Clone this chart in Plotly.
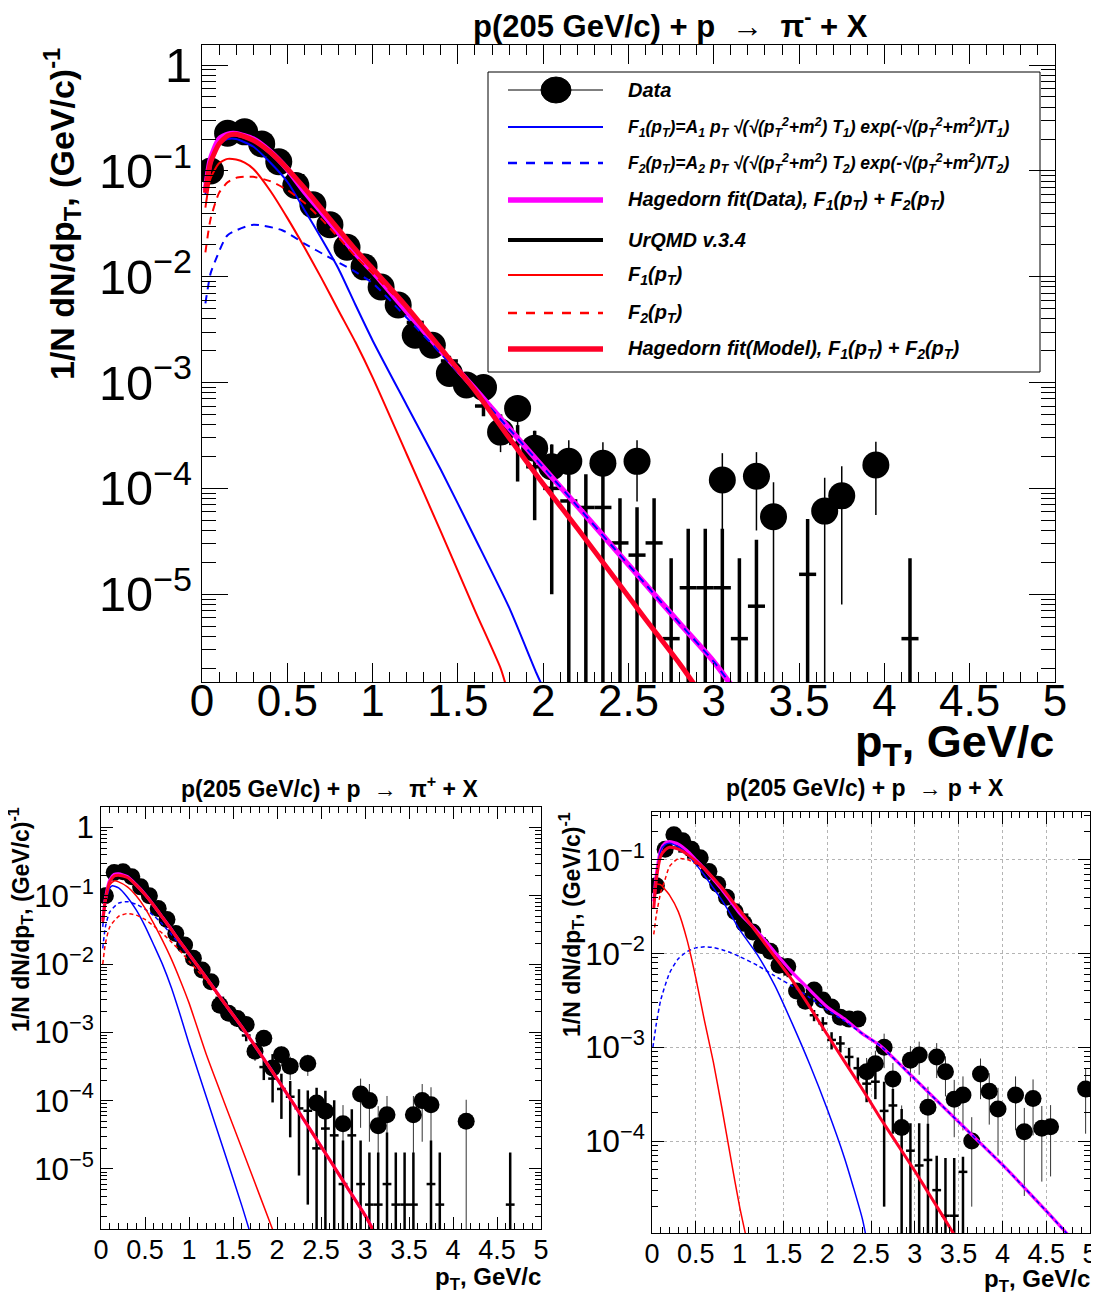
import plotly.graph_objects as go

W, H = 1099, 1294          # reference picture size
OFF = 8                    # page margin in front of the figure
FW, FH = W - OFF, H - OFF  # figure size
FONT = "Liberation Sans, Arial, Helvetica, sans-serif"


def PX(x):
    return (x - OFF) / FW


def PY(y):
    return 1 - (y - OFF) / FH


# ---------------- common tick labels ----------------
X_TICKS = [0, 0.5, 1, 1.5, 2, 2.5, 3, 3.5, 4, 4.5, 5]
X_TICK_TEXT = ["0", "0.5", "1", "1.5", "2", "2.5", "3", "3.5", "4", "4.5", "5"]

# ================= Panel 1 : p + p -> pi- + X =================
pim_data_pt = [0.05, 0.15, 0.25, 0.35, 0.45, 0.55, 0.65, 0.75, 0.85, 0.95, 1.05, 1.15, 1.25, 1.35, 1.45,
               1.55, 1.65, 1.75, 1.85, 1.95, 2.05, 2.15, 2.35, 2.55, 3.05, 3.25, 3.35, 3.65, 3.75, 3.95]
pim_data_val = [0.10, 0.227, 0.234, 0.18, 0.122, 0.073, 0.048, 0.031, 0.019, 0.0124, 0.0080, 0.0054, 0.0028,
                0.00225, 0.00122, 0.00095, 0.0009, 3.4e-4, 5.7e-4, 2.4e-4, 1.6e-4, 1.8e-4, 1.73e-4, 1.8e-4,
                1.2e-4, 1.3e-4, 5.4e-5, 6.1e-5, 8.5e-5, 1.66e-4]
pim_data_err = [0.003, 0.005, 0.005, 0.004, 0.003, 0.002, 0.0015, 0.001, 7e-4, 5e-4, 4e-4, 3.5e-4, 3e-4,
                2.5e-4, 1.8e-4, 1.6e-4, 1.6e-4, 1.2e-4, 1.9e-4, 1.1e-4, 1.0e-4, 1.05e-4, 1.0e-4, 1.05e-4,
                0.95e-4, 0.9e-4, 6e-5, 6.5e-5, 7.7e-5, 1.1e-4]

pim_model_pt = [0.05, 0.15, 0.25, 0.35, 0.45, 0.55, 0.65, 0.75, 0.85, 0.95, 1.05, 1.15, 1.25, 1.35, 1.45,
                1.55, 1.65, 1.75, 1.85, 1.95, 2.05, 2.15, 2.25, 2.35, 2.45, 2.55, 2.65, 2.75, 2.85, 2.95,
                3.05, 3.15, 3.25, 3.55, 4.15]
pim_model_val = [0.11, 0.21, 0.22, 0.185, 0.135, 0.09, 0.058, 0.037, 0.023, 0.0148, 0.0094, 0.006, 0.0037,
                 0.0024, 0.0016, 0.001, 6e-4, 4e-4, 2.66e-4, 1.6e-4, 1.0e-4, 7.6e-5, 6.6e-5, 6.6e-5, 3.05e-5,
                 2.34e-5, 3.05e-5, 3.8e-6, 1.15e-5, 1.15e-5, 1.15e-5, 3.8e-6, 7.7e-6, 1.54e-5, 3.8e-6]
pim_model_up = [0.002, 0.003, 0.003, 0.003, 0.002, 0.0015, 0.001, 7e-4, 5e-4, 4e-4, 3.5e-4, 3e-4, 3e-4,
                2.4e-4, 1.9e-4, 1.5e-4, 1.2e-4, 1.0e-4, 1.3e-4, 1.9e-4, 1.6e-4, 6.2e-5, 7e-5, 7e-5, 5e-5,
                4.3e-5, 5e-5, 1.8e-5, 3e-5, 3e-5, 3e-5, 1.8e-5, 2.5e-5, 3.6e-5, 1.8e-5]
pim_model_dn = [0.002, 0.003, 0.003, 0.003, 0.002, 0.0015, 0.001, 7e-4, 5e-4, 4e-4, 3.5e-4, 3e-4, 3e-4,
                2.4e-4, 1.9e-4, 1.5e-4, 1.2e-4, 1.0e-4, 1.5e-4, 1.1e-4, 0.9e-4, 7.6e-5, 6.6e-5, 6.6e-5,
                3.05e-5, 2.34e-5, 3.05e-5, 3.8e-6, 1.15e-5, 1.15e-5, 1.15e-5, 3.8e-6, 7.7e-6, 1.54e-5, 3.8e-6]

pim_f1d_pt = [0.02, 0.05, 0.1, 0.15, 0.2, 0.3, 0.4, 0.5, 0.6, 0.7, 0.8, 0.9, 1.0, 1.2, 1.4, 1.6, 1.8, 1.96, 2.0]
pim_f1d_val = [0.06, 0.12, 0.18, 0.2, 0.2, 0.17, 0.12, 0.079, 0.043, 0.023, 0.0119, 0.0054, 0.0025, 6.1e-4,
               1.5e-4, 3.4e-5, 7.5e-6, 1.8e-6, 1.3e-6]
pim_f2d_pt = [0.02, 0.05, 0.08, 0.15, 0.3, 0.47, 0.6, 0.74, 0.88, 1.0, 1.2, 1.4, 1.6, 1.8, 2.0, 2.2, 2.4,
              2.6, 2.8, 3.0, 3.1]
pim_f2d_val = [0.0056, 0.0107, 0.0144, 0.0247, 0.031, 0.0275, 0.0206, 0.0154, 0.0116, 0.0087, 0.0041,
               0.00188, 8.4e-4, 3.65e-4, 1.58e-4, 6.8e-5, 2.9e-5, 1.24e-5, 5.3e-6, 2.3e-6, 1.4e-6]
pim_hagd_pt = [0.02, 0.05, 0.1, 0.15, 0.2, 0.3, 0.4, 0.5, 0.6, 0.7, 0.8, 0.9, 1.0, 1.2, 1.4, 1.6, 1.8, 2.0,
               2.2, 2.4, 2.6, 2.8, 3.0, 3.1]
pim_hagd_val = [0.065, 0.13, 0.2, 0.222, 0.225, 0.2, 0.152, 0.104, 0.064, 0.041, 0.026, 0.0166, 0.0112,
                0.0047, 0.002, 8.7e-4, 3.7e-4, 1.58e-4, 6.8e-5, 2.9e-5, 1.24e-5, 5.3e-6, 2.3e-6, 1.4e-6]
pim_f1m_pt = [0.02, 0.05, 0.1, 0.15, 0.2, 0.25, 0.3, 0.4, 0.5, 0.6, 0.7, 0.8, 0.9, 1.0, 1.2, 1.4, 1.6, 1.75,
              1.78]
pim_f1m_val = [0.045, 0.085, 0.118, 0.13, 0.128, 0.12, 0.105, 0.065, 0.036, 0.019, 0.0097, 0.0048, 0.0024,
               0.00112, 2.1e-4, 3.9e-5, 7.0e-6, 2.0e-6, 1.4e-6]
pim_f2m_pt = [0.02, 0.05, 0.1, 0.15, 0.2, 0.25, 0.3, 0.4, 0.5, 0.6, 0.7, 0.8, 0.9, 1.0, 1.2, 1.4, 1.6, 1.8,
              2.0, 2.2, 2.4, 2.6, 2.8, 2.9]
pim_f2m_val = [0.017, 0.035, 0.062, 0.078, 0.086, 0.088, 0.088, 0.08, 0.066, 0.05, 0.035, 0.0235, 0.0155,
               0.0108, 0.005, 0.00205, 8.3e-4, 3.0e-4, 1.1e-4, 4.2e-5, 1.56e-5, 5.8e-6, 2.2e-6, 1.3e-6]
pim_hagm_pt = [0.02, 0.05, 0.1, 0.15, 0.2, 0.3, 0.4, 0.5, 0.6, 0.7, 0.8, 0.9, 1.0, 1.2, 1.4, 1.6, 1.8, 2.0,
               2.2, 2.4, 2.6, 2.8, 2.9]
pim_hagm_val = [0.062, 0.12, 0.18, 0.215, 0.222, 0.195, 0.15, 0.105, 0.069, 0.044, 0.028, 0.018, 0.012,
                0.0052, 0.0021, 8.4e-4, 3.0e-4, 1.1e-4, 4.2e-5, 1.56e-5, 5.8e-6, 2.2e-6, 1.3e-6]

# ================= Panel 2 : p + p -> pi+ + X =================
pip_data_pt = [0.05, 0.15, 0.25, 0.35, 0.45, 0.55, 0.65, 0.75, 0.85, 0.95, 1.05, 1.15, 1.25, 1.35, 1.45,
               1.55, 1.65, 1.75, 1.85, 1.95, 2.05, 2.15, 2.35, 2.45, 2.55, 2.75, 2.95, 3.05, 3.15, 3.25,
               3.55, 3.65, 3.75, 4.15]
pip_data_val = [0.10, 0.22, 0.224, 0.19, 0.135, 0.1, 0.065, 0.045, 0.028, 0.019, 0.0122, 0.0082, 0.0055,
                0.0025, 0.0019, 0.0016, 0.0013, 5.3e-4, 8.2e-4, 3.0e-4, 4.7e-4, 3.2e-4, 3.5e-4, 9.2e-5,
                7.0e-5, 4.6e-5, 1.25e-4, 1.0e-4, 4.3e-5, 6.2e-5, 6.2e-5, 1.0e-4, 8.7e-5, 5.0e-5]
pip_data_err = [0.003, 0.005, 0.005, 0.004, 0.003, 0.002, 0.0015, 0.001, 7e-4, 5e-4, 4e-4, 3e-4, 2.5e-4,
                2e-4, 1.6e-4, 1.5e-4, 1.4e-4, 1.5e-4, 2.0e-4, 1.2e-4, 1.5e-4, 1.2e-4, 1.2e-4, 6e-5, 5e-5,
                4e-5, 8.5e-5, 7.5e-5, 4e-5, 5.5e-5, 5.5e-5, 7.5e-5, 7e-5, 5.3e-5]

pip_model_pt = [0.05, 0.15, 0.25, 0.35, 0.45, 0.55, 0.65, 0.75, 0.85, 0.95, 1.05, 1.15, 1.25, 1.35, 1.45,
                1.55, 1.65, 1.75, 1.85, 1.95, 2.05, 2.15, 2.25, 2.35, 2.45, 2.55, 2.65, 2.75, 2.85, 2.95,
                3.05, 3.15, 3.25, 3.35, 3.45, 3.55, 3.75, 3.85, 4.65]
pip_model_val = [0.09, 0.2, 0.205, 0.175, 0.13, 0.092, 0.062, 0.041, 0.027, 0.0175, 0.0115, 0.0075, 0.0049,
                 0.0032, 0.0021, 0.0014, 9e-4, 5.6e-4, 3.1e-4, 2.1e-4, 1.48e-4, 1.14e-4, 7.7e-5, 7.1e-5,
                 2.0e-5, 3.9e-5, 3.1e-5, 6e-6, 3.1e-5, 6e-6, 3e-6, 3e-6, 6e-6, 3e-6, 3e-6, 3e-6, 6e-6, 3e-6,
                 3e-6]
pip_model_up = [0.002, 0.003, 0.003, 0.003, 0.002, 0.0015, 0.001, 7e-4, 5e-4, 4e-4, 3e-4, 2.5e-4, 2.2e-4,
                2e-4, 1.8e-4, 2e-4, 1.6e-4, 1.3e-4, 1.1e-4, 2.7e-4, 1.0e-4, 8e-5, 7e-5, 7e-5, 1.35e-4,
                1.0e-4, 7e-5, 2e-5, 4.4e-5, 2e-5, 1.44e-5, 1.44e-5, 2.8e-5, 1.44e-5, 1.44e-5, 1.44e-5,
                2e-5, 1.44e-5, 1.44e-5]
pip_model_dn = [0.002, 0.003, 0.003, 0.003, 0.002, 0.0015, 0.001, 7e-4, 5e-4, 4e-4, 3e-4, 2.5e-4, 2.2e-4,
                2e-4, 1.8e-4, 2e-4, 1.6e-4, 1.3e-4, 1.1e-4, 1.16e-4, 9.4e-5, 8.5e-5, 6.9e-5, 6.8e-5, 2.0e-5,
                3.9e-5, 3.1e-5, 6e-6, 3.1e-5, 6e-6, 3e-6, 3e-6, 6e-6, 3e-6, 3e-6, 3e-6, 6e-6, 3e-6, 3e-6]

pip_f1d_pt = [0.02, 0.05, 0.1, 0.13, 0.2, 0.3, 0.4, 0.5, 0.6, 0.7, 0.8, 0.9, 1.0, 1.2, 1.4, 1.6, 1.7]
pip_f1d_val = [0.035, 0.08, 0.13, 0.14, 0.13, 0.095, 0.062, 0.036, 0.019, 0.0098, 0.0045, 0.0018, 6.8e-4,
               1.1e-4, 1.8e-5, 2.9e-6, 1.1e-6]
pip_f2d_pt = [0.02, 0.05, 0.1, 0.2, 0.3, 0.4, 0.5, 0.6, 0.7, 0.8, 0.9, 1.0, 1.2, 1.4, 1.6, 1.8, 2.0, 2.2, 2.4,
              2.6, 2.8, 3.0, 3.12]
pip_f2d_val = [0.017, 0.035, 0.058, 0.078, 0.082, 0.075, 0.064, 0.051, 0.038, 0.027, 0.019, 0.0133, 0.0061,
               0.0027, 0.0012, 5.1e-4, 2.1e-4, 8.5e-5, 3.4e-5, 1.35e-5, 5.3e-6, 2.1e-6, 1.1e-6]
pip_hagd_pt = [0.02, 0.05, 0.1, 0.15, 0.2, 0.3, 0.4, 0.5, 0.6, 0.7, 0.8, 0.9, 1.0, 1.2, 1.4, 1.6, 1.8, 2.0,
               2.2, 2.4, 2.6, 2.8, 3.0, 3.12]
pip_hagd_val = [0.045, 0.09, 0.17, 0.205, 0.21, 0.19, 0.145, 0.105, 0.072, 0.048, 0.032, 0.021, 0.014,
                0.0062, 0.0027, 0.0012, 5.1e-4, 2.1e-4, 8.5e-5, 3.4e-5, 1.35e-5, 5.3e-6, 2.1e-6, 1.1e-6]
pip_f1m_pt = [0.02, 0.05, 0.1, 0.15, 0.2, 0.3, 0.4, 0.5, 0.6, 0.7, 0.8, 0.9, 1.0, 1.2, 1.4, 1.6, 1.8, 1.96]
pip_f1m_val = [0.04, 0.09, 0.145, 0.165, 0.16, 0.135, 0.1, 0.066, 0.039, 0.022, 0.0118, 0.0058, 0.0027,
               4.6e-4, 9.5e-5, 2.0e-5, 4.2e-6, 1.2e-6]
pip_f2m_pt = [0.02, 0.05, 0.1, 0.2, 0.3, 0.4, 0.5, 0.6, 0.7, 0.8, 0.9, 1.0, 1.2, 1.4, 1.6, 1.8, 2.0, 2.2, 2.4,
              2.6, 2.8, 3.0, 3.12]
pip_f2m_val = [0.01, 0.02, 0.035, 0.05, 0.055, 0.052, 0.045, 0.036, 0.028, 0.021, 0.0155, 0.011, 0.0057,
               0.0026, 0.0012, 5.1e-4, 2.1e-4, 8.5e-5, 3.4e-5, 1.35e-5, 5.3e-6, 2.1e-6, 1.1e-6]
pip_hagm_pt = [0.02, 0.05, 0.1, 0.15, 0.2, 0.3, 0.4, 0.5, 0.6, 0.7, 0.8, 0.9, 1.0, 1.2, 1.4, 1.6, 1.8, 2.0,
               2.2, 2.4, 2.6, 2.8, 3.0, 3.12]
pip_hagm_val = [0.042, 0.085, 0.16, 0.195, 0.2, 0.185, 0.143, 0.104, 0.072, 0.048, 0.032, 0.021, 0.014,
                0.0062, 0.0027, 0.0012, 5.1e-4, 2.1e-4, 8.5e-5, 3.4e-5, 1.35e-5, 5.3e-6, 2.1e-6, 1.1e-6]

# ================= Panel 3 : p + p -> p + X =================
pr_data_pt = [0.05, 0.15, 0.25, 0.35, 0.45, 0.55, 0.65, 0.75, 0.85, 0.95, 1.05, 1.15, 1.25, 1.35, 1.45,
              1.55, 1.65, 1.75, 1.85, 1.95, 2.05, 2.15, 2.25, 2.35, 2.45, 2.55, 2.65, 2.75, 2.85, 2.95,
              3.05, 3.15, 3.25, 3.35, 3.45, 3.55, 3.65, 3.75, 3.85, 3.95, 4.15, 4.25, 4.35, 4.45, 4.55,
              4.95]
pr_data_val = [0.053, 0.13, 0.185, 0.16, 0.13, 0.105, 0.075, 0.055, 0.04, 0.028, 0.021, 0.017, 0.0122,
               0.0106, 0.0075, 0.0073, 0.0040, 0.0031, 0.0041, 0.0032, 0.0027, 0.0021, 0.0020, 0.0020,
               5.5e-4, 6.7e-4, 1.0e-3, 4.6e-4, 1.4e-4, 7.3e-4, 8.3e-4, 2.3e-4, 7.9e-4, 5.5e-4, 2.8e-4,
               3.1e-4, 1.0e-4, 5.2e-4, 3.4e-4, 2.2e-4, 3.1e-4, 1.26e-4, 2.85e-4, 1.37e-4, 1.42e-4, 3.6e-4]
pr_data_err = [0.003, 0.004, 0.005, 0.004, 0.004, 0.003, 0.003, 0.002, 0.0015, 0.0012, 0.001, 9e-4, 8e-4,
               7e-4, 6e-4, 6e-4, 5e-4, 4e-4, 5e-4, 4e-4, 4e-4, 3.5e-4, 3.5e-4, 3.5e-4, 2.2e-4, 2.5e-4,
               4e-4, 2.2e-4, 1.0e-4, 3e-4, 3.2e-4, 1.5e-4, 3.2e-4, 2.5e-4, 1.7e-4, 1.8e-4, 8e-5, 2.4e-4,
               1.9e-4, 1.5e-4, 1.8e-4, 1.0e-4, 1.7e-4, 1.0e-4, 1.0e-4, 2.4e-4]

pr_model_pt = [0.05, 0.15, 0.25, 0.35, 0.45, 0.55, 0.65, 0.75, 0.85, 0.95, 1.05, 1.15, 1.25, 1.35, 1.45,
               1.55, 1.65, 1.75, 1.85, 1.95, 2.05, 2.15, 2.25, 2.35, 2.45, 2.55, 2.65, 2.75, 2.85, 2.95,
               3.05, 3.15, 3.25, 3.35, 3.45, 3.55]
pr_model_val = [0.06, 0.125, 0.135, 0.123, 0.106, 0.088, 0.072, 0.057, 0.044, 0.033, 0.026, 0.019, 0.0145,
                0.011, 0.0082, 0.006, 0.0044, 0.0031, 0.0022, 0.0018, 0.0012, 0.0011, 7.9e-4, 6.0e-4,
                4.1e-4, 4.3e-4, 2.1e-4, 2.4e-4, 1.2e-4, 7.9e-5, 5.5e-5, 6.3e-5, 3.0e-5, 1.6e-5, 1.6e-5,
                4.7e-5]
pr_model_up = [0.002, 0.003, 0.003, 0.003, 0.003, 0.002, 0.002, 0.0015, 0.0012, 0.001, 8e-4, 7e-4, 6e-4,
               5e-4, 4.5e-4, 4e-4, 3.5e-4, 3.2e-4, 3e-4, 3e-4, 2.5e-4, 2.2e-4, 2e-4, 1.8e-4, 1.5e-4, 1.5e-4,
               2.2e-4, 1.2e-4, 1.0e-4, 7.6e-5, 1.0e-4, 9e-5, 4e-5, 5e-5, 5e-5, 2.1e-5]
pr_model_dn = [0.002, 0.003, 0.003, 0.003, 0.003, 0.002, 0.002, 0.0015, 0.0012, 0.001, 8e-4, 7e-4, 6e-4,
               5e-4, 4.5e-4, 4e-4, 3.5e-4, 3.2e-4, 3e-4, 3e-4, 2.5e-4, 2.2e-4, 2e-4, 1.8e-4, 1.5e-4, 1.5e-4,
               1.9e-4, 1.2e-4, 1.2e-4, 7.9e-5, 5.5e-5, 6.3e-5, 3.0e-5, 1.6e-5, 1.6e-5, 4.7e-5]

pr_f1d_pt = [0.02, 0.05, 0.1, 0.15, 0.2, 0.3, 0.4, 0.5, 0.6, 0.7, 0.8, 0.9, 1.0, 1.2, 1.4, 1.6, 1.8, 2.0, 2.2,
             2.4, 2.44]
pr_f1d_val = [0.035, 0.068, 0.125, 0.145, 0.15, 0.138, 0.115, 0.09, 0.068, 0.05, 0.037, 0.026, 0.018, 0.0098,
              0.0046, 0.0018, 6.6e-4, 2.2e-4, 6.5e-5, 1.5e-5, 1.0e-5]
pr_f2d_pt = [0.01, 0.05, 0.1, 0.2, 0.3, 0.4, 0.5, 0.6, 0.7, 0.8, 0.9, 1.0, 1.2, 1.4, 1.6, 1.8, 2.0, 2.2, 2.4,
             2.6, 3.0, 3.5, 4.0, 4.5, 4.75]
pr_f2d_val = [0.001, 0.0018, 0.0032, 0.0062, 0.0088, 0.0105, 0.0115, 0.0118, 0.0116, 0.011, 0.0102, 0.0093,
              0.0075, 0.0058, 0.0045, 0.0034, 0.0025, 0.0019, 0.0014, 0.00105, 4.6e-4, 1.6e-4, 5.6e-5,
              1.8e-5, 1.0e-5]
pr_hagd_pt = [0.02, 0.05, 0.1, 0.15, 0.2, 0.3, 0.4, 0.5, 0.6, 0.7, 0.8, 0.9, 1.0, 1.2, 1.4, 1.6, 1.8, 2.0,
              2.2, 2.4, 2.6, 3.0, 3.5, 4.0, 4.5, 4.75]
pr_hagd_val = [0.036, 0.07, 0.128, 0.151, 0.156, 0.147, 0.125, 0.1, 0.08, 0.062, 0.048, 0.036, 0.027, 0.0173,
               0.0104, 0.0063, 0.0041, 0.0027, 0.002, 0.0014, 0.00105, 4.6e-4, 1.6e-4, 5.6e-5, 1.8e-5,
               1.0e-5]
pr_f1m_pt = [0.02, 0.05, 0.1, 0.15, 0.2, 0.3, 0.4, 0.5, 0.6, 0.7, 0.8, 0.9, 1.0, 1.08]
pr_f1m_val = [0.045, 0.055, 0.054, 0.048, 0.042, 0.028, 0.014, 0.0055, 0.0019, 7e-4, 2.2e-4, 6.5e-5, 2.0e-5,
              9e-6]
pr_f2m_pt = [0.02, 0.05, 0.1, 0.15, 0.2, 0.3, 0.4, 0.5, 0.6, 0.7, 0.8, 0.9, 1.0, 1.2, 1.4, 1.6, 1.8, 2.0,
             2.2, 2.4, 2.6, 2.8, 3.0, 3.2, 3.4, 3.45]
pr_f2m_val = [0.016, 0.026, 0.045, 0.062, 0.085, 0.103, 0.101, 0.091, 0.078, 0.063, 0.05, 0.038, 0.029,
              0.0165, 0.0093, 0.0052, 0.0027, 0.00137, 7.0e-4, 3.6e-4, 1.8e-4, 9.3e-5, 4.8e-5, 2.4e-5,
              1.2e-5, 1.0e-5]
pr_hagm_pt = [0.02, 0.05, 0.1, 0.15, 0.2, 0.3, 0.4, 0.5, 0.6, 0.7, 0.8, 0.9, 1.0, 1.2, 1.4, 1.6, 1.8, 2.0,
              2.2, 2.4, 2.6, 2.8, 3.0, 3.2, 3.4, 3.45]
pr_hagm_val = [0.03, 0.062, 0.11, 0.128, 0.136, 0.13, 0.115, 0.097, 0.08, 0.064, 0.05, 0.038, 0.029, 0.0165,
               0.0093, 0.0052, 0.0027, 0.00137, 7.0e-4, 3.6e-4, 1.8e-4, 9.3e-5, 4.8e-5, 2.4e-5, 1.2e-5,
               1.0e-5]

# ---------------- legend texts ----------------
LEG_TEXT = [
    "Data",
    "F<sub>1</sub>(p<sub>T</sub>)=A<sub>1</sub> p<sub>T</sub> √(√(p<sub>T</sub><sup>2</sup>+m<sup>2</sup>) T<sub>1</sub>) exp(-√(p<sub>T</sub><sup>2</sup>+m<sup>2</sup>)/T<sub>1</sub>)",
    "F<sub>2</sub>(p<sub>T</sub>)=A<sub>2</sub> p<sub>T</sub> √(√(p<sub>T</sub><sup>2</sup>+m<sup>2</sup>) T<sub>2</sub>) exp(-√(p<sub>T</sub><sup>2</sup>+m<sup>2</sup>)/T<sub>2</sub>)",
    "Hagedorn fit(Data), F<sub>1</sub>(p<sub>T</sub>) + F<sub>2</sub>(p<sub>T</sub>)",
    "UrQMD v.3.4",
    "F<sub>1</sub>(p<sub>T</sub>)",
    "F<sub>2</sub>(p<sub>T</sub>)",
    "Hagedorn fit(Model), F<sub>1</sub>(p<sub>T</sub>) + F<sub>2</sub>(p<sub>T</sub>)",
]
LEG_SIZE = [20, 17.5, 17.5, 20, 20, 20, 20, 20]

BLUE = "#0000ff"
RED = "#ff0000"
RED_THICK = "#ff0028"
MAGENTA = "#ff00ff"

fig = go.Figure()


def add_data(xa, ya, pt, val, err, size, thick, ecolor):
    fig.add_trace(go.Scatter(
        x=pt, y=val, xaxis=xa, yaxis=ya, mode="markers",
        marker=dict(symbol="circle", size=size, color="black"),
        error_y=dict(type="data", array=err, visible=True, thickness=thick, width=0, color=ecolor),
        showlegend=False, hoverinfo="skip"))


def add_model(xa, ya, pt, val, up, dn, thick):
    fig.add_trace(go.Scatter(
        x=pt, y=val, xaxis=xa, yaxis=ya, mode="markers",
        marker=dict(size=1, color="black"),
        error_x=dict(type="constant", value=0.05, thickness=thick, width=0, color="black"),
        error_y=dict(type="data", array=up, arrayminus=dn, symmetric=False, visible=True,
                     thickness=thick, width=0, color="black"),
        showlegend=False, hoverinfo="skip"))


def add_curve(xa, ya, pt, val, color, width, dash="solid"):
    fig.add_trace(go.Scatter(
        x=pt, y=val, xaxis=xa, yaxis=ya, mode="lines",
        line=dict(color=color, width=width, dash=dash, shape="spline", smoothing=0.6),
        showlegend=False, hoverinfo="skip"))


def panel(xa, ya, d, big):
    if big:
        ds, dt, mt, thin, thickm, thickr, dash = 27, 1.5, 3.5, 2, 5.5, 5, "8px,6px"
        ec = "black"
    else:
        ds, dt, mt, thin, thickm, thickr, dash = 17, 1, 2.5, 1.5, 3.2, 3, "4px,3px"
        ec = "#333333"
    add_data(xa, ya, d["dpt"], d["dval"], d["derr"], ds, dt, ec)
    add_model(xa, ya, d["mpt"], d["mval"], d["mup"], d["mdn"], mt)
    add_curve(xa, ya, d["hagd"][0], d["hagd"][1], MAGENTA, thickm)
    add_curve(xa, ya, d["f1d"][0], d["f1d"][1], BLUE, thin)
    add_curve(xa, ya, d["f2d"][0], d["f2d"][1], BLUE, thin, dash)
    add_curve(xa, ya, d["f1m"][0], d["f1m"][1], RED, thin)
    add_curve(xa, ya, d["f2m"][0], d["f2m"][1], RED, thin, dash)
    add_curve(xa, ya, d["hagm"][0], d["hagm"][1], RED_THICK, thickr)


panel("x", "y", dict(dpt=pim_data_pt, dval=pim_data_val, derr=pim_data_err,
                     mpt=pim_model_pt, mval=pim_model_val, mup=pim_model_up, mdn=pim_model_dn,
                     f1d=(pim_f1d_pt, pim_f1d_val), f2d=(pim_f2d_pt, pim_f2d_val),
                     hagd=(pim_hagd_pt, pim_hagd_val), f1m=(pim_f1m_pt, pim_f1m_val),
                     f2m=(pim_f2m_pt, pim_f2m_val), hagm=(pim_hagm_pt, pim_hagm_val)), True)
panel("x2", "y2", dict(dpt=pip_data_pt, dval=pip_data_val, derr=pip_data_err,
                       mpt=pip_model_pt, mval=pip_model_val, mup=pip_model_up, mdn=pip_model_dn,
                       f1d=(pip_f1d_pt, pip_f1d_val), f2d=(pip_f2d_pt, pip_f2d_val),
                       hagd=(pip_hagd_pt, pip_hagd_val), f1m=(pip_f1m_pt, pip_f1m_val),
                       f2m=(pip_f2m_pt, pip_f2m_val), hagm=(pip_hagm_pt, pip_hagm_val)), False)
panel("x3", "y3", dict(dpt=pr_data_pt, dval=pr_data_val, derr=pr_data_err,
                       mpt=pr_model_pt, mval=pr_model_val, mup=pr_model_up, mdn=pr_model_dn,
                       f1d=(pr_f1d_pt, pr_f1d_val), f2d=(pr_f2d_pt, pr_f2d_val),
                       hagd=(pr_hagd_pt, pr_hagd_val), f1m=(pr_f1m_pt, pr_f1m_val),
                       f2m=(pr_f2m_pt, pr_f2m_val), hagm=(pr_hagm_pt, pr_hagm_val)), False)


def xcfg(x0, x1, anchor, fs, majlen, minlen, standoff, grid=False):
    return dict(domain=[PX(x0), PX(x1)], anchor=anchor, range=[0, 5], tickmode="array",
                tickvals=X_TICKS, ticktext=X_TICK_TEXT, ticks="inside", ticklen=majlen, tickwidth=1,
                tickcolor="black", automargin=False,
                minor=dict(ticks="inside", ticklen=minlen, tick0=0, dtick=0.1, tickcolor="black",
                           showgrid=False),
                showline=True, linecolor="black", linewidth=1.3, mirror="allticks",
                showgrid=grid, gridcolor="#b4b4b4", griddash="dot", gridwidth=1, zeroline=False,
                tickfont=dict(family=FONT, size=fs, color="black"), ticklabelstandoff=standoff)


def ycfg(y0, y1, anchor, rng, fs, majlen, minlen, standoff, grid=False):
    return dict(domain=[PY(y1), PY(y0)], anchor=anchor, type="log", range=rng, dtick=1,
                exponentformat="power", showexponent="all", ticks="inside", ticklen=majlen,
                tickwidth=1, tickcolor="black", automargin=False,
                minor=dict(ticks="inside", ticklen=minlen, dtick="D1", tickcolor="black",
                           showgrid=False),
                showline=True, linecolor="black", linewidth=1.3, mirror="allticks",
                showgrid=grid, gridcolor="#b4b4b4", griddash="dot", gridwidth=1, zeroline=False,
                tickfont=dict(family=FONT, size=fs, color="black"), ticklabelstandoff=standoff)


fig.update_layout(
    width=FW, height=FH, autosize=False,
    margin=dict(l=0, r=0, t=0, b=0, pad=0, autoexpand=False),
    paper_bgcolor="white", plot_bgcolor="white",
    showlegend=False,
    xaxis=xcfg(202, 1055, "y", 44, 19, 10, -20),
    yaxis=ycfg(45, 682, "x", [-5.83, 0.19], 39, 26, 14, 1),
    xaxis2=xcfg(101, 541, "y2", 27, 12, 6, -4),
    yaxis2=ycfg(807, 1229, "x2", [-5.88, 0.30], 25, 12, 6, 1),
    xaxis3=xcfg(652, 1090, "y3", 27, 12, 6, -4, grid=True),
    yaxis3=ycfg(812, 1233, "x3", [-4.98, -0.49], 25, 12, 6, 1, grid=True),
)

ann = []


def text(x, y, s, size, xanchor="center", angle=0, yanchor="middle"):
    ann.append(dict(x=PX(x), y=PY(y), xref="paper", yref="paper", text=s, showarrow=False,
                    xanchor=xanchor, yanchor=yanchor, textangle=angle,
                    font=dict(family=FONT, size=size, color="black")))


YTITLE = "<b>1/N dN/dp<sub>T</sub>, (GeV/c)<sup>-1</sup></b>"
XTITLE = "<b>p<sub>T</sub>, GeV/c</b>"

text(670, 24, "<b>p(205 GeV/c) + p  →  π<sup>-</sup> + X</b>", 31)
text(329, 787, "<b>p(205 GeV/c) + p  →  π<sup>+</sup> + X</b>", 23)
text(865, 788, "<b>p(205 GeV/c) + p  → p + X</b>", 23)

text(62, 214, YTITLE, 34, angle=-90)
text(1056, 744, XTITLE, 45, xanchor="right")
text(20, 920, YTITLE, 23, angle=-90)
text(543, 1278, XTITLE, 24, xanchor="right")
text(571, 925, YTITLE, 23, angle=-90)
text(1092, 1280, XTITLE, 24, xanchor="right")

# ---------------- manual legend ----------------
shapes = []
shapes.append(dict(type="rect", xref="paper", yref="paper", x0=PX(488), x1=PX(1040), y0=PY(372), y1=PY(72),
                   line=dict(color="black", width=1), fillcolor="white", layer="below"))
rows = [90, 127, 163, 200, 240, 275, 313, 349]
styles = [("black", 1, "solid"), (BLUE, 2, "solid"), (BLUE, 2.5, "dash"), (MAGENTA, 5.5, "solid"),
          ("black", 4, "solid"), (RED, 2, "solid"), (RED, 2.5, "dash"), (RED_THICK, 5.5, "solid")]
for yy, (col, wd, ds) in zip(rows, styles):
    shapes.append(dict(type="line", xref="paper", yref="paper", x0=PX(508), x1=PX(603), y0=PY(yy), y1=PY(yy),
                       line=dict(color=col, width=wd, dash=ds)))
shapes.append(dict(type="circle", xref="paper", yref="paper", x0=PX(541), x1=PX(571), y0=PY(103), y1=PY(77),
                   fillcolor="black", line=dict(color="black", width=1)))
for yy, s, fs in zip(rows, LEG_TEXT, LEG_SIZE):
    text(626, yy, "<b><i>" + s + "</i></b>", fs, xanchor="left")

fig.update_layout(annotations=ann, shapes=shapes)
fig.write_html("out.html")
